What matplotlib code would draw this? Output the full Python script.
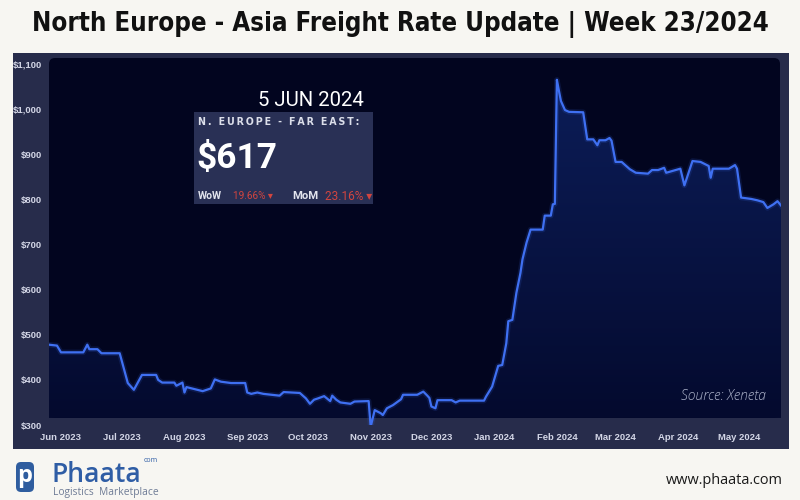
import matplotlib
matplotlib.use("Agg")
import matplotlib.pyplot as plt
import matplotlib.dates as mdates
from matplotlib.patches import FancyBboxPatch, Rectangle
from matplotlib.colors import LinearSegmentedColormap
import numpy as np
import pandas as pd

# ---------------- data ----------------
dates = [
    "2023-05-26", "2023-05-30", "2023-06-01", "2023-06-12", "2023-06-14", "2023-06-15",
    "2023-06-19", "2023-06-21", "2023-06-30", "2023-07-04", "2023-07-07", "2023-07-11",
    "2023-07-18", "2023-07-19", "2023-07-21", "2023-07-27", "2023-07-28", "2023-07-31",
    "2023-08-01", "2023-08-02", "2023-08-10", "2023-08-14", "2023-08-16", "2023-08-19",
    "2023-08-24", "2023-08-31", "2023-09-01", "2023-09-03", "2023-09-06", "2023-09-09",
    "2023-09-17", "2023-09-19", "2023-09-27", "2023-09-30", "2023-10-02", "2023-10-04",
    "2023-10-06", "2023-10-09", "2023-10-12", "2023-10-13", "2023-10-15", "2023-10-17",
    "2023-10-22", "2023-10-24", "2023-10-31", "2023-11-01", "2023-11-03", "2023-11-06",
    "2023-11-07", "2023-11-09", "2023-11-12", "2023-11-16", "2023-11-17", "2023-11-24",
    "2023-11-27", "2023-11-29", "2023-11-30", "2023-12-01", "2023-12-03", "2023-12-04",
    "2023-12-11", "2023-12-13", "2023-12-15", "2023-12-27", "2023-12-28", "2023-12-31",
    "2024-01-03", "2024-01-05", "2024-01-07", "2024-01-08", "2024-01-10", "2024-01-12",
    "2024-01-14", "2024-01-15", "2024-01-17", "2024-01-19", "2024-01-25", "2024-01-26",
    "2024-01-29", "2024-01-30", "2024-01-31", "2024-02-01", "2024-02-02", "2024-02-03",
    "2024-02-05", "2024-02-07", "2024-02-14", "2024-02-16", "2024-02-19", "2024-02-21",
    "2024-02-22", "2024-02-25", "2024-02-27", "2024-02-28", "2024-03-01", "2024-03-04",
    "2024-03-08", "2024-03-11", "2024-03-17", "2024-03-19", "2024-03-22", "2024-03-25",
    "2024-03-26", "2024-04-02", "2024-04-04", "2024-04-08", "2024-04-12", "2024-04-16",
    "2024-04-17", "2024-04-18", "2024-04-26", "2024-04-29", "2024-04-30", "2024-05-02",
    "2024-05-07", "2024-05-10", "2024-05-13", "2024-05-15", "2024-05-18", "2024-05-20",
    "2024-05-22",
]
rates = [
    478, 476, 461, 461, 478, 468,
    468, 459, 459, 393, 378, 411,
    411, 400, 394, 394, 387, 394,
    372, 384, 375, 381, 401, 396,
    393, 393, 372, 369, 372, 369,
    365, 373, 371, 359, 347, 356,
    359, 364, 353, 365, 356, 350,
    347, 352, 353, 296, 333, 326,
    322, 337, 344, 357, 367, 367,
    374, 365, 360, 341, 337, 355,
    355, 350, 354, 354, 363, 385,
    431, 433, 481, 530, 533, 593,
    637, 667, 704, 733, 733, 764,
    764, 789, 790, 1065, 1041, 1018,
    998, 994, 993, 933, 933, 920,
    931, 931, 936, 930, 883, 883,
    867, 859, 857, 865, 865, 870,
    859, 868, 831, 885, 883, 874,
    848, 868, 868, 876, 868, 804,
    801, 798, 794, 781, 789, 796,
    785,
]
y_ticks = [300, 400, 500, 600, 700, 800, 900, 1000, 1100]
month_ticks = ["2023-06-01", "2023-07-01", "2023-08-01", "2023-09-01", "2023-10-01",
               "2023-11-01", "2023-12-01", "2024-01-01", "2024-02-01", "2024-03-01",
               "2024-04-01", "2024-05-01"]

title = "North Europe - Asia Freight Rate Update | Week 23/2024"
info_date = "5 JUN 2024"
info_lane = "N. EUROPE - FAR EAST:"
info_rate = "$617"
wow_label, wow_change = "WoW", "19.66% \u25be"
mom_label, mom_change = "MoM", "23.16% \u25be"
source_text = "Source: Xeneta"
brand = "Phaata"
brand_sub = "Logistics  Marketplace"
website = "www.phaata.com"

# ---------------- figure ----------------
W, H = 800, 500
fig = plt.figure(figsize=(8, 5), dpi=100)
fig.patch.set_facecolor("#f7f6f2")
renderer = fig.canvas.get_renderer()

bg = fig.add_axes([0, 0, 1, 1])
bg.set_xlim(0, W); bg.set_ylim(H, 0); bg.axis("off")

# outer navy panel + dark plot area
bg.add_patch(Rectangle((13, 53), 776, 396, fc="#272c4b", ec="none"))
bg.add_patch(FancyBboxPatch((49, 58), 731, 360, boxstyle="round,pad=0,rounding_size=6",
                            fc="#02051f", ec="none"))

# data axes: pixel 425 -> $300, pixel 64 -> $1100
ax = fig.add_axes([49 / W, (H - 425) / H, 732 / W, (425 - 64) / H])
ax.patch.set_visible(False)
for s in ax.spines.values():
    s.set_visible(False)

xn = mdates.date2num(pd.to_datetime(dates))
jun1 = mdates.date2num(pd.Timestamp("2023-06-01"))
px_per_day = 2.024
x0 = jun1 + (49 - 61) / px_per_day
x1 = jun1 + (781 - 61) / px_per_day
fill_bottom = 315.6

poly = ax.fill_between(xn, rates, fill_bottom, facecolor="none", edgecolor="none")
cmap = LinearSegmentedColormap.from_list("g", ["#040a2e", "#0c1d58"])
grad = np.linspace(0, 1, 256).reshape(-1, 1)
im = ax.imshow(grad, extent=[xn[0], xn[-1], fill_bottom, 1070], origin="lower",
               aspect="auto", cmap=cmap, zorder=1)
im.set_clip_path(poly.get_paths()[0], transform=ax.transData)

ax.plot(xn, rates, color="#3d6ef0", lw=4, alpha=0.15, zorder=2, solid_joinstyle="round")
ax.plot(xn, rates, color="#3f70f2", lw=1.6, zorder=3, solid_joinstyle="round")

ax.set_xlim(x0, x1)
ax.set_ylim(300, 1100)
tick_kw = dict(fontsize=6.8, fontweight="bold", color="#d3d6e6", family="Liberation Sans")
ax.set_yticks(y_ticks, labels=[f"${v:,}" for v in y_ticks], **tick_kw)
mt = pd.to_datetime(month_ticks)
ax.set_xticks(mdates.date2num(mt), labels=[d.strftime("%b %Y") for d in mt], **tick_kw)
ax.tick_params(axis="both", length=0)
ax.tick_params(axis="y", pad=5)
ax.tick_params(axis="x", pad=6)

# overlay for texts
ov = fig.add_axes([0, 0, 1, 1])
ov.set_xlim(0, W); ov.set_ylim(H, 0); ov.axis("off")
ov.patch.set_visible(False)


def fit(t, width):
    bb = t.get_window_extent(renderer)
    t.set_fontsize(t.get_fontsize() * width / bb.width)
    return t


# title (condensed bold)
fit(ov.text(400, 25, title, ha="center", va="center", fontsize=18, fontweight="bold",
            fontstretch="condensed", color="#111111",
            family=["DejaVu Sans", "Liberation Sans Narrow"]), 738)

# info box
ov.add_patch(Rectangle((194, 112), 179, 92, fc="#2c3359", ec="none", alpha=0.95))
fit(ov.text(311, 101, info_date, ha="center", va="center", fontsize=13, color="white",
            family=["Roboto", "DejaVu Sans"], fontweight="normal"), 106)
fit(ov.text(198, 122, "\u2009".join(info_lane), ha="left", va="center", fontsize=7,
            fontweight="bold", color="#dcdfea", family=["DejaVu Sans"]), 164)
fit(ov.text(196, 158, info_rate, ha="left", va="center", fontsize=26, fontweight="bold",
            color="white", family=["Roboto", "DejaVu Sans"]), 81)
small_kw = dict(va="center", ha="left", family=["Roboto", "DejaVu Sans"])
fit(ov.text(198, 196, wow_label, color="#e2e4ee", fontsize=8, fontweight="bold", **small_kw), 24)
fit(ov.text(233, 196, wow_change, color="#d2453f", fontsize=8, **small_kw), 40)
fit(ov.text(292, 196, mom_label, color="#e2e4ee", fontsize=8, fontweight="bold", **small_kw), 26)
fit(ov.text(325, 196, mom_change, color="#d2453f", fontsize=8, **small_kw), 47)

# source
fit(ov.text(766, 396, source_text, ha="right", va="center", fontsize=9, style="italic",
            color="#aab0c8", family=["Open Sans", "DejaVu Sans"], fontweight="light"), 85)

# footer logo
ov.add_patch(FancyBboxPatch((16, 462), 18, 30, boxstyle="round,pad=0,rounding_size=5",
                            fc="#2f5d9f", ec="none"))
ov.text(25, 476, "p", ha="center", va="center", fontsize=17, fontweight="bold",
        color="white", family=["Open Sans", "DejaVu Sans"])
fit(ov.text(52, 482, brand, ha="left", va="baseline", fontsize=22, fontweight="semibold",
            color="#2f5da5", family=["Open Sans", "DejaVu Sans"]), 90)
ov.text(144, 460, "com", ha="left", va="center", fontsize=5, color="#2f5da5",
        family=["Open Sans", "DejaVu Sans"])
fit(ov.text(53, 493, brand_sub, ha="left", va="center", fontsize=6, color="#6f7c96",
            family=["Open Sans", "DejaVu Sans"]), 106)
fit(ov.text(783, 480, website, ha="right", va="center", fontsize=11, color="#1a1a1a",
            family=["Open Sans", "DejaVu Sans"]), 118)

fig.savefig("out.png", dpi=100, facecolor=fig.get_facecolor())
